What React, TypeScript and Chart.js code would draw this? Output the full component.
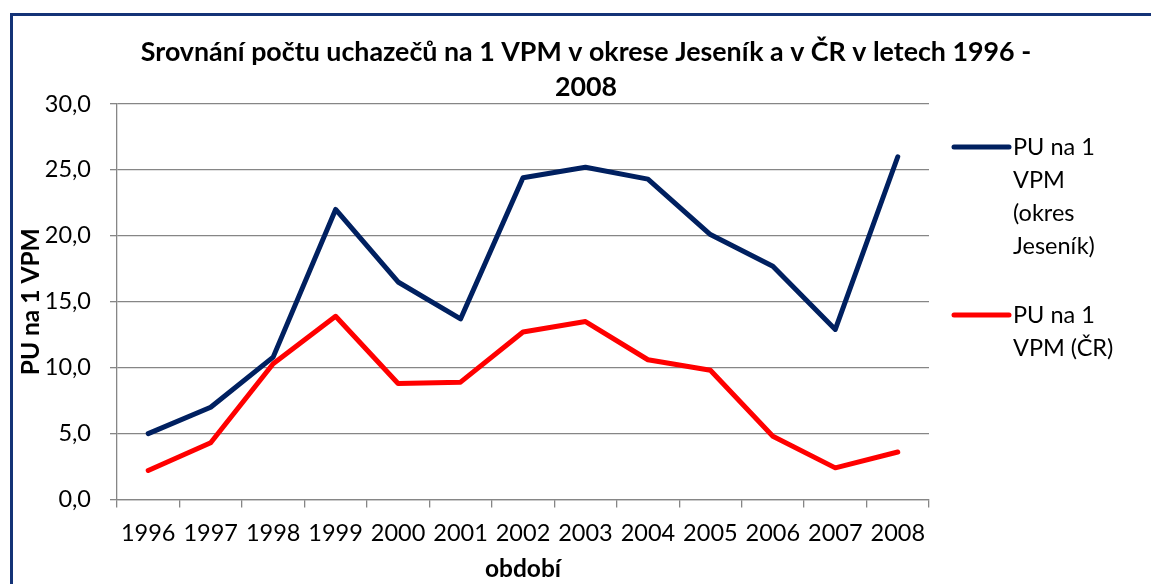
import React, { useEffect, useRef } from 'react';
import { Chart, registerables } from 'chart.js';

Chart.register(...registerables);

const years = ['1996', '1997', '1998', '1999', '2000', '2001', '2002', '2003', '2004', '2005', '2006', '2007', '2008'];
const jesenikValues = [5.0, 7.0, 10.8, 22.0, 16.5, 13.7, 24.4, 25.2, 24.3, 20.1, 17.7, 12.9, 26.0];
const crValues = [2.2, 4.3, 10.3, 13.9, 8.8, 8.9, 12.7, 13.5, 10.6, 9.8, 4.8, 2.4, 3.6];
const seriesNames = ['PU na 1 VPM (okres Jeseník)', 'PU na 1 VPM (ČR)'];
const legendLines = [['PU na 1', 'VPM', '(okres', 'Jeseník)'], ['PU na 1', 'VPM (ČR)']];
const titleLines = ['Srovnání počtu uchazečů na 1 VPM v okrese Jeseník a v ČR v letech 1996 -', '2008'];
const yAxisTitle = 'PU na 1 VPM';
const xAxisTitle = 'období';
const yMin = 0;
const yMax = 30;
const yStep = 5;

const FONT = 'Lato';
const NAVY = '#002060';
const RED = '#ff0000';
const GRID = '#868686';
const FRAME = '#143377';

const decorPlugin = {
  id: 'decor',
  beforeDraw(chart: any) {
    const { ctx, width, height } = chart;
    ctx.save();
    ctx.fillStyle = '#ffffff';
    ctx.fillRect(0, 0, width, height);
    ctx.restore();
  },
  afterDraw(chart: any) {
    const { ctx, chartArea } = chart;
    ctx.save();
    // frame
    ctx.strokeStyle = FRAME;
    ctx.lineWidth = 3;
    ctx.strokeRect(11.5, 14.5, 1200, 700);
    // title
    ctx.fillStyle = '#000';
    ctx.font = `bold 26.8px ${FONT}`;
    ctx.textAlign = 'center';
    ctx.textBaseline = 'middle';
    titleLines.forEach((line, i) => ctx.fillText(line, 586, 52 + i * 35));
    // legend
    const lx = chartArea.right + 25;
    const starts = [147, 315];
    chart.data.datasets.forEach((ds: any, i: number) => {
      const y0 = starts[i];
      ctx.strokeStyle = ds.borderColor;
      ctx.lineWidth = 5;
      ctx.lineCap = 'round';
      ctx.beginPath();
      ctx.moveTo(lx, y0);
      ctx.lineTo(lx + 55, y0);
      ctx.stroke();
      ctx.fillStyle = '#000';
      ctx.font = `23.5px ${FONT}`;
      ctx.textAlign = 'left';
      ctx.textBaseline = 'middle';
      legendLines[i].forEach((t, k) => ctx.fillText(t, lx + 59, y0 + k * 33));
    });
    ctx.restore();
  },
};

export default function App() {
  const ref = useRef<HTMLCanvasElement | null>(null);
  useEffect(() => {
    if (!ref.current) return;
    const chart = new Chart(ref.current, {
      type: 'line',
      data: {
        labels: years,
        datasets: [
          {
            label: seriesNames[0],
            data: jesenikValues,
            borderColor: NAVY,
            backgroundColor: NAVY,
            borderWidth: 5,
            pointRadius: 0,
            tension: 0,
            borderCapStyle: 'round',
            borderJoinStyle: 'round',
          },
          {
            label: seriesNames[1],
            data: crValues,
            borderColor: RED,
            backgroundColor: RED,
            borderWidth: 5,
            pointRadius: 0,
            tension: 0,
            borderCapStyle: 'round',
            borderJoinStyle: 'round',
          },
        ],
      },
      options: {
        responsive: false,
        animation: false,
        layout: { padding: { top: 104, right: 222, left: 0, bottom: 0 } },
        plugins: {
          legend: { display: false },
          tooltip: { enabled: false },
          title: { display: false },
        },
        scales: {
          x: {
            type: 'category',
            offset: true,
            grid: { offset: true, drawOnChartArea: false, drawTicks: true, tickLength: 8, color: GRID, lineWidth: 1.3 },
            border: { color: GRID, width: 1.3 },
            ticks: { color: '#000', font: { family: FONT, size: 23.5 }, padding: 12, maxRotation: 0, autoSkip: false },
            title: { display: true, text: xAxisTitle, color: '#000', font: { family: FONT, size: 24.5, weight: 'bold' }, padding: { top: 0, bottom: 0 } },
            afterFit: (s: any) => { s.height = 84.5; },
          },
          y: {
            min: yMin,
            max: yMax,
            grid: { color: GRID, lineWidth: 1.3, tickLength: 7, drawTicks: true },
            border: { color: GRID, width: 1.3 },
            ticks: {
              stepSize: yStep,
              color: '#000',
              font: { family: FONT, size: 23.5 },
              padding: 19,
              callback: (v: any) => Number(v).toFixed(1).replace('.', ','),
            },
            title: { display: true, text: yAxisTitle, color: '#000', font: { family: FONT, size: 24.5, weight: 'bold' }, padding: { top: 16, bottom: 0 } },
            afterFit: (s: any) => { s.width = 117; },
          },
        },
      },
      plugins: [decorPlugin],
    } as any);
    return () => chart.destroy();
  }, []);
  return (
    <div style={{ position: 'fixed', left: 0, top: 0, width: 1151, height: 584 }}>
      <canvas ref={ref} width={1151} height={584} style={{ display: 'block' }} />
    </div>
  );
}
